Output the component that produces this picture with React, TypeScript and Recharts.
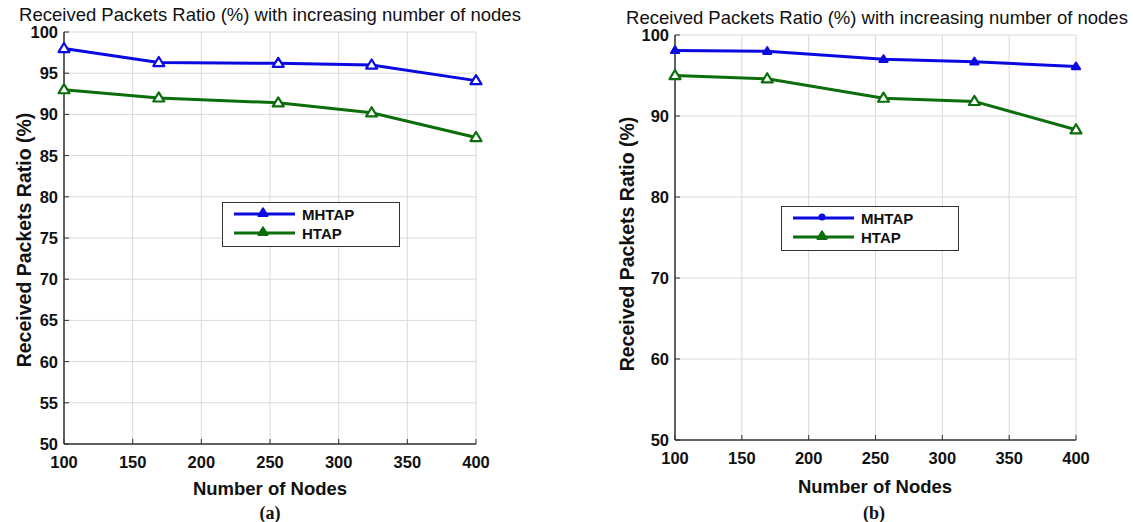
import { CartesianGrid, Legend, Line, LineChart, XAxis, YAxis } from "recharts"

// number of nodes on the x axis
const nodes = [100, 169, 256, 324, 400]

// panel (a)
const mhtapA = [98.0, 96.3, 96.2, 96.0, 94.1]
const htapA = [93.0, 92.0, 91.4, 90.2, 87.2]

// panel (b)
const mhtapB = [98.1, 98.0, 97.0, 96.7, 96.1]
const htapB = [95.0, 94.6, 92.2, 91.8, 88.3]

const xTicks = [100, 150, 200, 250, 300, 350, 400]
const yTicksA = [50, 55, 60, 65, 70, 75, 80, 85, 90, 95, 100]
const yTicksB = [50, 60, 70, 80, 90, 100]

const titleText = "Received Packets Ratio (%) with increasing number of nodes"
const yLabel = "Received Packets Ratio (%)"
const xLabel = "Number of Nodes"

const BLUE = "#0a0ae0"
const GREEN = "#0b6e0b"
const FRAME = "#333"
const FONT = "'Liberation Sans', Arial, sans-serif"

const buildRows = (a: number[], b: number[]) =>
  nodes.map((n, i) => ({ nodes: n, MHTAP: a[i], HTAP: b[i] }))

const Triangle = ({ cx, cy, color, size, filled }: any) => (
  <path
    d={`M${cx},${cy - size} L${cx + size},${cy + size * 0.65} L${cx - size},${cy + size * 0.65} Z`}
    fill={filled ? color : "#fff"}
    stroke={color}
    strokeWidth={2.2}
    strokeLinejoin="round"
  />
)

const triangleDot = (color: string, size: number, filled = false) => (p: any) =>
  <Triangle key={`d-${p.index}`} cx={p.cx} cy={p.cy} color={color} size={size} filled={filled} />

// tick label outside, short tick mark pointing into the plot
const YTick = ({ x, y, payload }: any) => (
  <g>
    <text x={x} y={y} dy={6} textAnchor="end" fontFamily={FONT} fontWeight="bold" fontSize={16.5} fill="#111">
      {payload.value}
    </text>
    <line x1={x + 6} x2={x + 11} y1={y} y2={y} stroke={FRAME} />
  </g>
)

const XTick = ({ x, y, payload }: any) => (
  <g>
    <text x={x} y={y + 18} textAnchor="middle" fontFamily={FONT} fontWeight="bold" fontSize={16.5} fill="#111">
      {payload.value}
    </text>
    <line x1={x} x2={x} y1={y - 6} y2={y - 11} stroke={FRAME} />
  </g>
)

const LegendBox = ({ w, h, small }: { w: number; h: number; small: boolean }) => {
  const rows = [
    { name: "MHTAP", color: BLUE },
    { name: "HTAP", color: GREEN },
  ]
  return (
    <svg width={w} height={h} style={{ display: "block" }}>
      <rect x={0.5} y={0.5} width={w - 1} height={h - 1} fill="#fff" stroke={FRAME} />
      {rows.map((r, i) => {
        const cy = 12 + i * 19
        return (
          <g key={r.name}>
            <line x1={12} x2={73} y1={cy} y2={cy} stroke={r.color} strokeWidth={3} />
            {small && i === 0 ? (
              <circle cx={41} cy={cy - 1} r={3.5} fill={r.color} />
            ) : (
              <Triangle cx={41} cy={cy - 1} color={r.color} size={4.5} filled />
            )}
            <text x={80} y={cy + 5.5} fontFamily={FONT} fontWeight="bold" fontSize={15} fill="#111">
              {r.name}
            </text>
          </g>
        )
      })}
    </svg>
  )
}

type PanelProps = {
  left: number
  width: number
  margin: { top: number; right: number; bottom: number; left: number }
  rows: { nodes: number; MHTAP: number; HTAP: number }[]
  yTicks: number[]
  legendPos: { left: number; top: number }
  smallBlue: boolean
}

const Panel = ({ left, width, margin, rows, yTicks, legendPos, smallBlue }: PanelProps) => (
  <div style={{ position: "absolute", left, top: 0 }}>
    <LineChart width={width} height={522} data={rows} margin={margin}>
      <CartesianGrid stroke="#dadada" strokeWidth={1} />
      <XAxis
        dataKey="nodes"
        type="number"
        domain={[100, 400]}
        ticks={xTicks}
        interval={0}
        height={30}
        tickSize={4}
        tickMargin={2}
        tickLine={false}
        axisLine={{ stroke: FRAME, strokeWidth: 1.5 }}
        tick={<XTick />}
      />
      <XAxis
        xAxisId="top"
        orientation="top"
        type="number"
        domain={[100, 400]}
        ticks={xTicks}
        interval={0}
        height={0}
        mirror
        tick={false}
        tickSize={5}
        tickLine={{ stroke: FRAME }}
        axisLine={{ stroke: FRAME, strokeWidth: 1.5 }}
      />
      <YAxis
        type="number"
        domain={[50, 100]}
        ticks={yTicks}
        interval={0}
        width={60}
        tickSize={4}
        tickMargin={2}
        tickLine={false}
        axisLine={{ stroke: FRAME, strokeWidth: 1.5 }}
        tick={<YTick />}
      />
      <YAxis
        yAxisId="right"
        orientation="right"
        type="number"
        domain={[50, 100]}
        ticks={yTicks}
        interval={0}
        width={0}
        mirror
        tick={false}
        tickSize={5}
        tickLine={{ stroke: FRAME }}
        axisLine={{ stroke: FRAME, strokeWidth: 1.5 }}
      />
      <Line
        dataKey="MHTAP"
        stroke={BLUE}
        strokeWidth={3}
        dot={smallBlue ? triangleDot(BLUE, 4, true) : triangleDot(BLUE, 5.5)}
        isAnimationActive={false}
      />
      <Line
        dataKey="HTAP"
        stroke={GREEN}
        strokeWidth={3}
        dot={triangleDot(GREEN, 5.5)}
        isAnimationActive={false}
      />
      <Legend
        layout="vertical"
        verticalAlign="middle"
        align="center"
        wrapperStyle={{ left: legendPos.left, top: legendPos.top, width: 178, height: 45 }}
        content={() => <LegendBox w={178} h={45} small={smallBlue} />}
      />
    </LineChart>
  </div>
)

export default function App() {
  return (
    <div style={{ position: "absolute", left: 0, top: 0, width: 1133, height: 522, background: "#fff" }}>
      <Panel
        left={0}
        width={560}
        margin={{ top: 32, right: 84, bottom: 48, left: 4 }}
        rows={buildRows(mhtapA, htapA)}
        yTicks={yTicksA}
        legendPos={{ left: 222, top: 202 }}
        smallBlue={false}
      />
      <Panel
        left={566}
        width={567}
        margin={{ top: 35, right: 57, bottom: 52, left: 49 }}
        rows={buildRows(mhtapB, htapB)}
        yTicks={yTicksB}
        legendPos={{ left: 215, top: 206 }}
        smallBlue={true}
      />
      <svg
        width={1133}
        height={522}
        style={{ position: "absolute", left: 0, top: 0, pointerEvents: "none" }}
        fontFamily={FONT}
        fill="#111"
      >
        <text x={270} y={21} textAnchor="middle" fontSize={18.5}>{titleText}</text>
        <text x={877} y={24} textAnchor="middle" fontSize={18.5}>{titleText}</text>
        <text transform="translate(31,240) rotate(-90)" textAnchor="middle" fontSize={19.5} fontWeight="bold">
          {yLabel}
        </text>
        <text transform="translate(634,244) rotate(-90)" textAnchor="middle" fontSize={19.5} fontWeight="bold">
          {yLabel}
        </text>
        <text x={270} y={495} textAnchor="middle" fontSize={18.5} fontWeight="bold">{xLabel}</text>
        <text x={875} y={493} textAnchor="middle" fontSize={18.5} fontWeight="bold">{xLabel}</text>
        <text x={270} y={519} textAnchor="middle" fontSize={18} fontWeight="bold" fontFamily="'Liberation Serif', serif">
          (a)
        </text>
        <text x={874} y={519} textAnchor="middle" fontSize={18} fontWeight="bold" fontFamily="'Liberation Serif', serif">
          (b)
        </text>
      </svg>
    </div>
  )
}
